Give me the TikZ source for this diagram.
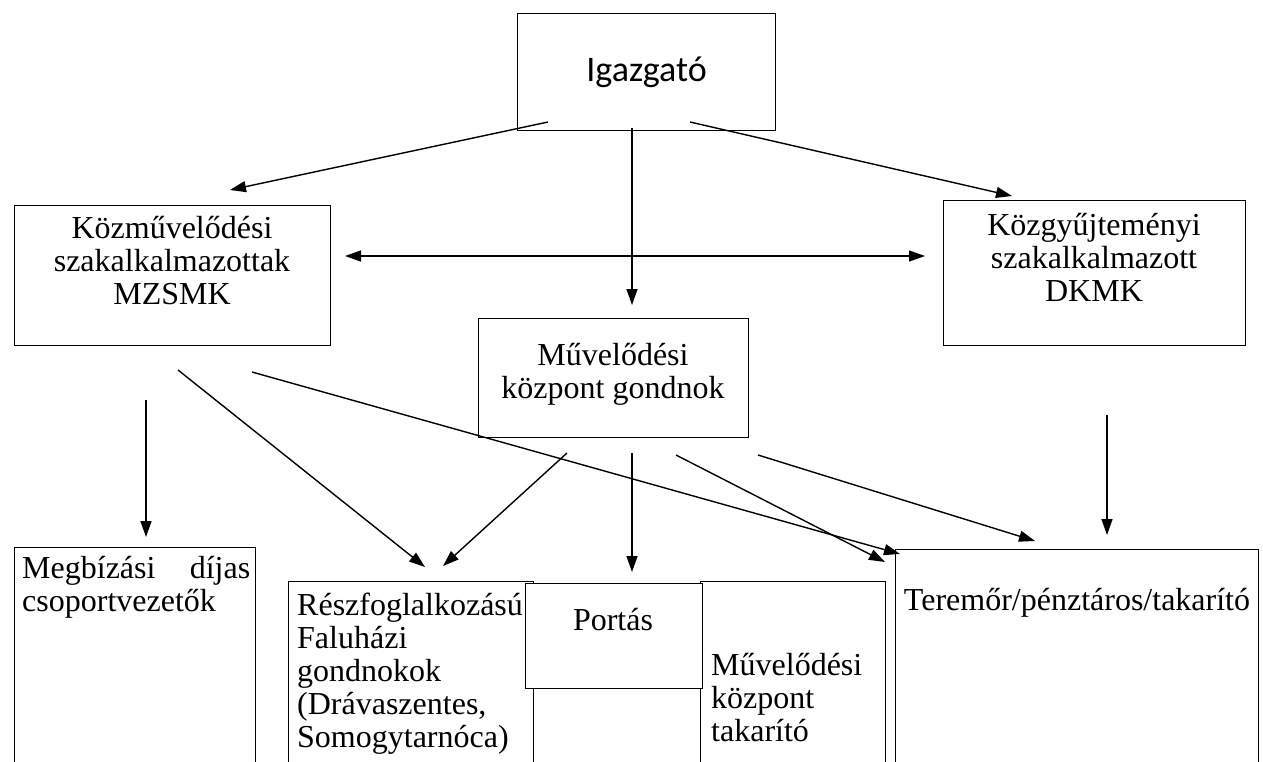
\documentclass[tikz,border=0pt]{standalone}
\usepackage{fontspec}
\setmainfont{Liberation Serif}
\newfontfamily\calibri{Carlito}
\usetikzlibrary{arrows.meta}
\tikzset{
  box/.style={draw, line width=1.2pt, inner sep=0pt, anchor=north west},
  txt/.style={font=\fontsize{32}{33}\selectfont, inner sep=0pt},
  arr/.style={line width=1.4pt, -{Triangle[length=16pt,width=11pt]}}
}
\begin{document}
\begin{tikzpicture}[x=1pt,y=-1pt]
\useasboundingbox (0,0) rectangle (1263,761);
\clip (0,0) rectangle (1263,761);
% boxes
\node[box, minimum width=258, minimum height=117] (igazgato) at (517,13) {};
\node[box, minimum width=316, minimum height=140] (kozmuv) at (14,205) {};
\node[box, minimum width=302, minimum height=145] (kozgyujt) at (943,200) {};
\node[box, minimum width=270, minimum height=119] (gondnok) at (478,318) {};
\node[box, minimum width=241, minimum height=230] (megbizasi) at (14,547) {};
\node[box, minimum width=245, minimum height=200] (reszf) at (288,581) {};
\node[box, minimum width=185, minimum height=200] (takarito) at (700,581) {};
\node[box, minimum width=363, minimum height=230] (teremor) at (895,549) {};
\node[box, fill=white, minimum width=177, minimum height=105] (portas) at (525,583) {};
% texts
\node[txt, font=\calibri\fontsize{36}{36}\selectfont] (igazgatotxt) at (igazgato.center) {Igazgató};
\node[txt, align=center, anchor=north] (kozmuvtxt) at (172,216) {Közművelődési\\szakalkalmazottak\\MZSMK};
\node[txt, align=center, anchor=north] (kozgyujttxt) at (1094,213) {Közgyűjteményi\\szakalkalmazott\\DKMK};
\node[txt, align=center, anchor=north] (gondnoktxt) at (613,343) {Művelődési\\központ gondnok};
\node[txt, align=left, text width=228, anchor=north west] (megbizasitxt) at (22,556) {Megbízási \hfill díjas\\csoportvezetők};
\node[txt, align=left, anchor=north west] (reszftxt) at (297,593) {Részfoglalkozású\\Faluházi\\gondnokok\\(Drávaszentes,\\Somogytarnóca)};
\node[txt, anchor=north] (portastxt) at (613,608) {Portás};
\node[txt, align=left, anchor=north west] (takaritotxt) at (711,653) {Művelődési\\központ\\takarító};
\node[txt, anchor=north] (teremortxt) at (1077,588) {Teremőr/pénztáros/takarító};
% arrow ends
\coordinate (a0) at (548,122);  \coordinate (a1) at (230,190);
\coordinate (b0) at (632,128);  \coordinate (b1) at (632,305);
\coordinate (c0) at (690,122);  \coordinate (c1) at (1012,196);
\coordinate (d0) at (345,256);  \coordinate (d1) at (925,256);
\coordinate (e0) at (1107,415); \coordinate (e1) at (1107,535);
\coordinate (f0) at (146,400);  \coordinate (f1) at (146,537);
\coordinate (g0) at (178,370);  \coordinate (g1) at (425,567);
\coordinate (h0) at (252,372);  \coordinate (h1) at (900,554);
\coordinate (i0) at (567,453);  \coordinate (i1) at (443,566);
\coordinate (j0) at (632,453);  \coordinate (j1) at (632,572);
\coordinate (k0) at (676,455);  \coordinate (k1) at (885,562);
\coordinate (l0) at (758,455);  \coordinate (l1) at (1035,541);
% arrows
\draw[arr] (a0) -- (a1);
\draw[arr] (b0) -- (b1);
\draw[arr] (c0) -- (c1);
\draw[arr, {Triangle[length=16pt,width=11pt]}-{Triangle[length=16pt,width=11pt]}] (d0) -- (d1);
\draw[arr] (e0) -- (e1);
\draw[arr] (f0) -- (f1);
\draw[arr] (g0) -- (g1);
\draw[arr] (h0) -- (h1);
\draw[arr] (i0) -- (i1);
\draw[arr] (j0) -- (j1);
\draw[arr] (k0) -- (k1);
\draw[arr] (l0) -- (l1);
\end{tikzpicture}
\end{document}
